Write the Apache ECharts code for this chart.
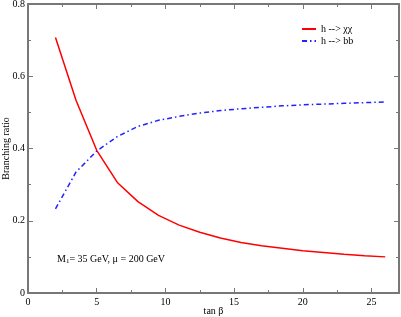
<!DOCTYPE html>
<html><head><meta charset="utf-8">
<script src="https://cdn.jsdelivr.net/npm/echarts@6/dist/echarts.min.js"></script>
<style>html,body{margin:0;padding:0;background:#fff}#c{width:401px;height:317px}</style>
</head><body><div id="c"></div>
<script>
const tanBeta = [2, 3.5, 5, 6.5, 8, 9.5, 11, 12.5, 14, 15.5, 17, 18.5, 20, 21.5, 23, 24.5, 26];
const brChiChi = [0.707, 0.533, 0.395, 0.306, 0.253, 0.215, 0.188, 0.168, 0.152, 0.140, 0.131, 0.124, 0.117, 0.112, 0.107, 0.103, 0.100];
const brBB = [0.233, 0.335, 0.393, 0.433, 0.461, 0.478, 0.489, 0.498, 0.505, 0.510, 0.514, 0.518, 0.521, 0.523, 0.525, 0.527, 0.529];
const xMajor = [0, 5, 10, 15, 20, 25];
const xMinor = [2.5, 7.5, 12.5, 17.5, 22.5];
const seriesNames = ['h --> \u03c7\u03c7', 'h --> bb'];

const FONT = 'Liberation Serif';
const AX = '#777';
function xAx(pos, ticks, len, showLine, showLabel) {
  return {
    type: 'value', position: pos, min: 0, max: 27,
    axisLine: {show: showLine, onZero: false, lineStyle: {color: AX, width: 2}},
    axisTick: {show: true, inside: true, length: len, customValues: ticks, lineStyle: {color: AX, width: 1}},
    axisLabel: {show: showLabel, customValues: xMajor, color: '#000', fontFamily: FONT, fontSize: 10, margin: 4},
    splitLine: {show: false},
    name: showLabel ? 'tan \u03b2' : '', nameLocation: 'middle', nameGap: 13, nameMoveOverlap: false,
    nameTextStyle: {color: '#000', fontFamily: FONT, fontSize: 10}
  };
}
function yAx(pos, showLabel) {
  return {
    type: 'value', position: pos, min: 0, max: 0.8, interval: 0.2,
    axisLine: {show: true, onZero: false, lineStyle: {color: AX, width: 2}},
    axisTick: {show: true, inside: true, length: 5, lineStyle: {color: AX, width: 1}},
    minorTick: {show: true, splitNumber: 2, length: 3, lineStyle: {color: AX, width: 1}},
    axisLabel: {show: showLabel, color: '#000', fontFamily: FONT, fontSize: 10, margin: 3},
    splitLine: {show: false}, minorSplitLine: {show: false},
    name: showLabel ? 'Branching ratio' : '', nameLocation: 'middle', nameGap: 17, nameMoveOverlap: false,
    nameTextStyle: {color: '#000', fontFamily: FONT, fontSize: 10}
  };
}
const chart = echarts.init(document.getElementById('c'), null, {renderer: 'canvas'});
chart.setOption({
  animation: false,
  grid: {left: 28, right: 2, top: 4, bottom: 24, containLabel: false, outerBoundsMode: 'none'},
  xAxis: [
    xAx('bottom', xMajor, 5, true, true),
    xAx('bottom', xMinor, 3, false, false),
    xAx('top', xMajor, 5, true, false),
    xAx('top', xMinor, 3, false, false)
  ],
  yAxis: [yAx('left', true), yAx('right', false)],
  legend: {
    left: 299, top: 22, orient: 'vertical', itemWidth: 14, itemHeight: 6, itemGap: 2, padding: 2,
    itemStyle: {opacity: 0},
    textStyle: {fontFamily: FONT, fontSize: 10, color: '#000'},
    data: seriesNames
  },
  series: [
    {name: seriesNames[0], type: 'line', symbol: 'none', color: '#ff0000',
     data: tanBeta.map((x, i) => [x, brChiChi[i]]),
     lineStyle: {color: '#ff0000', width: 1.5}},
    {name: seriesNames[1], type: 'line', symbol: 'none', color: '#0000ff',
     data: tanBeta.map((x, i) => [x, brBB[i]]),
     lineStyle: {color: '#2222ff', width: 1.5, type: [5, 3, 1.5, 3]}}
  ],
  graphic: [{
    type: 'text', left: 57, top: 254,
    style: {
      text: '{a|M}{s|1}{a|= 35 GeV, \u03bc = 200 GeV}',
      rich: {
        a: {fontFamily: FONT, fontSize: 10, fill: '#000'},
        s: {fontFamily: FONT, fontSize: 7, fill: '#000', verticalAlign: 'bottom', padding: [4, 0, 0, 0]}
      }
    }
  }]
});
</script></body></html>
